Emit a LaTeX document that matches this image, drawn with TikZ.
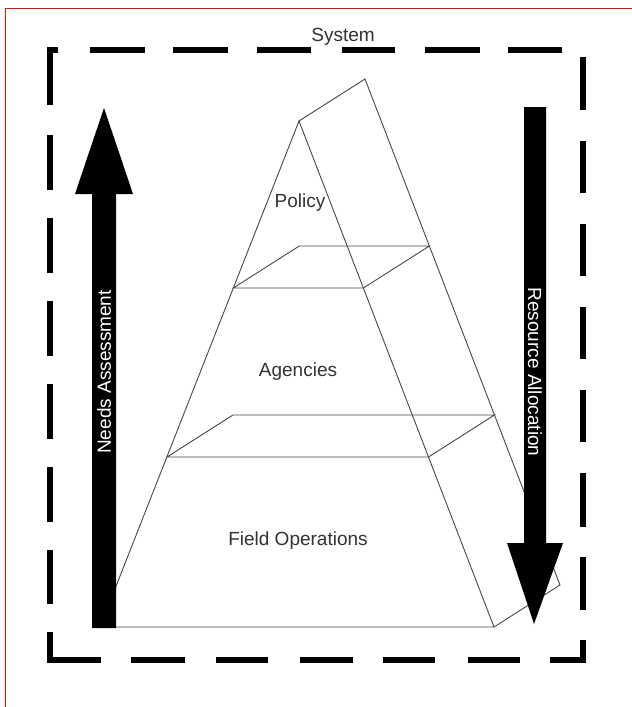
\documentclass[tikz,border=0pt]{standalone}
\usepackage{fontspec}
\setmainfont{Liberation Sans}
\begin{document}
\begin{tikzpicture}[x=1pt,y=-1pt,
  edge/.style={draw=black!72,line width=0.9pt},
  lbl/.style={text=black!80,font=\fontsize{19}{22}\selectfont,inner sep=0pt},
  arrowlbl/.style={text=white,font=\fontsize{19}{22}\selectfont,inner sep=0pt},
  bigarrow/.style={fill=black,draw=none},
  sysdash/.style={draw=black,line width=5.5pt,line join=miter}]
\useasboundingbox (0,0) rectangle (632,707);
\fill[white] (0,0) rectangle (632,707);
% red frame
\coordinate (fTL) at (5,8);
\coordinate (fTR) at (640,8);
\coordinate (fBL) at (5,715);
\draw[red,line width=1pt] (fBL) -- (fTL) -- (fTR);
% system box (dashed frame)
\draw[sysdash] (50,105) -- (50,50) -- (58,50);
\foreach \a/\b in {90/145,173/228,257/311,342/395,425/480,508/562}
  \draw[sysdash] (\a,50) -- (\b,50);
\foreach \a/\b in {57/110,141/193,224/276,307/359,390/442,473/527,557/610}
  \draw[sysdash] (583,\a) -- (583,\b);
\draw[sysdash] (583,640) -- (583,660) -- (550,660);
\foreach \a/\b in {468/520,383/435,300/353,216/268,131/185}
  \draw[sysdash] (\a,660) -- (\b,660);
\draw[sysdash] (101,660) -- (50,660) -- (50,632);
\foreach \a/\b in {135/190,218/273,301/356,384/439,467/522,550/604}
  \draw[sysdash] (50,\a) -- (50,\b);
\node[lbl] (sys) at (343,37) {System};
% pyramid points
\coordinate (A) at (299,121);
\coordinate (B) at (365,79);
\coordinate (L0) at (100,627);
\coordinate (R0) at (494,627);
\coordinate (Rb) at (560,585);
\coordinate (UL) at (233.3,288);
\coordinate (UR) at (363.4,288);
\coordinate (ULb) at (299.3,246);
\coordinate (URb) at (429.4,246);
\coordinate (LL) at (167,457);
\coordinate (LR) at (428.5,457);
\coordinate (LLb) at (233,415);
\coordinate (LRb) at (494.5,415);
\draw[edge] (L0) -- (A) -- (R0) -- (L0);
\draw[edge] (A) -- (B) -- (Rb) -- (R0);
\draw[edge] (UL) -- (UR) -- (URb) -- (ULb) -- cycle;
\draw[edge] (LL) -- (LR) -- (LRb) -- (LLb) -- cycle;
\node[lbl] (policy) at (300,203) {Policy};
\node[lbl] (agencies) at (298,372) {Agencies};
\node[lbl] (field) at (298,541) {Field Operations};
% left arrow
\fill[bigarrow] (92,628) -- (92,194) -- (75,194) -- (104,108) -- (133,194) -- (116,194) -- (116,628) -- cycle;
\node[arrowlbl,rotate=90] (needs) at (104,372) {Needs Assessment};
% right arrow
\fill[bigarrow] (524,107) -- (546,107) -- (546,543) -- (563,543) -- (534,624) -- (507,543) -- (524,543) -- cycle;
\node[arrowlbl,rotate=-90] (res) at (535,372) {Resource Allocation};
\end{tikzpicture}
\end{document}
